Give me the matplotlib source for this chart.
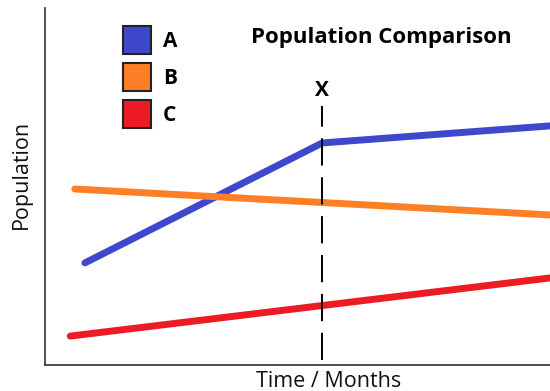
import matplotlib
matplotlib.use("Agg")
import matplotlib.pyplot as plt
from matplotlib.patches import Patch

# Data (months vs. population, arbitrary units)
series_names = ["A", "B", "C"]
a_x = [0.79, 5.49, 10.3]
a_y = [2.86, 6.22, 6.73]
b_x = [0.59, 10.3]
b_y = [4.93, 4.18]
c_x = [0.50, 10.3]
c_y = [0.81, 2.49]
event_x = 5.49
event_label = "X"
colors = ["#3f48cc", "#ff7f27", "#ed1c24"]

plt.rcParams['font.family'] = ['Open Sans', 'DejaVu Sans']

fig = plt.figure(figsize=(5.5, 3.91), dpi=100)
ax = fig.add_axes([45/550, 26/391, 505/550, 357/391])

for xs, ys, c in zip([a_x, b_x, c_x], [a_y, b_y, c_y], colors):
    ax.plot(xs, ys, color=c, lw=5.0, solid_capstyle='round', solid_joinstyle='round', zorder=2)

ax.axvline(event_x, ymin=0.014, ymax=0.725, color='black', lw=1.4,
           dashes=(14, 6), zorder=3)
ax.text(event_x, 10 * (365 - 90) / 357, event_label, ha='center', va='center',
        fontsize=15, fontweight='bold', color='black')

ax.set_xlim(0, 10)
ax.set_ylim(0, 10)
ax.set_xticks([])
ax.set_yticks([])
for s in ['top', 'right']:
    ax.spines[s].set_visible(False)
for s in ['left', 'bottom']:
    ax.spines[s].set_color('#333333')
    ax.spines[s].set_linewidth(1.2)

handles = [Patch(facecolor=c, edgecolor='#222222', linewidth=1.5) for c in colors]
leg = fig.legend(handles, series_names, loc='upper left',
                 bbox_to_anchor=(123/550, 1 - 26/391), bbox_transform=fig.transFigure,
                 frameon=False, borderpad=0, borderaxespad=0,
                 handlelength=1.35, handleheight=1.69, handletextpad=0.58,
                 labelspacing=0.44, prop={'weight': 'bold', 'size': 15})

fig.text(381/550, 1 - 37/391, "Population Comparison", ha='center', va='center',
         fontsize=16, fontweight='bold', color='black')
fig.text(21/550, 1 - 174/391, "Population", rotation=90, ha='center', va='center',
         fontsize=15.5, color='#111111')
fig.text(329/550, 1 - 387/391, "Time / Months", ha='center', va='baseline',
         fontsize=15.5, color='#111111')

fig.savefig("out.png", dpi=100)
